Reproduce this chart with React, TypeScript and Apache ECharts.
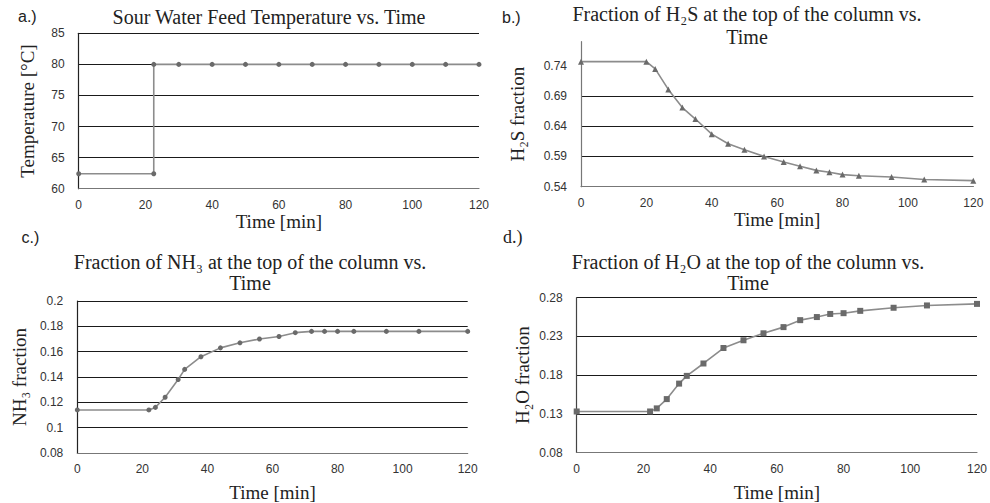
import React, { useEffect, useRef } from "react";
import * as echarts from "echarts";

const timeMin = 0;
const timeMax = 120;
const timeStep = 20;

const tempTime = [0, 22.5, 22.5, 30, 40, 50, 60, 70, 80, 90, 100, 110, 120];
const tempValues = [62.4, 62.4, 80, 80, 80, 80, 80, 80, 80, 80, 80, 80, 80];

const h2sTime = [0, 20, 22.7, 26.7, 31, 35, 40, 45, 50, 56, 62, 67, 72, 76, 80, 85, 95, 105, 120];
const h2sValues = [0.747, 0.747, 0.735, 0.701, 0.671, 0.652, 0.627, 0.611, 0.601, 0.59, 0.581, 0.574, 0.567, 0.564, 0.56, 0.558, 0.556, 0.552, 0.55];

const nh3Time = [0, 22, 24, 27, 31, 33, 38, 44, 50, 56, 62, 67, 72, 76, 80, 85, 95, 105, 120];
const nh3Values = [0.114, 0.114, 0.116, 0.124, 0.138, 0.146, 0.156, 0.163, 0.167, 0.17, 0.172, 0.175, 0.176, 0.176, 0.176, 0.176, 0.176, 0.176, 0.176];

const h2oTime = [0, 22, 24, 27, 30.7, 33, 38, 44, 50, 56, 62, 67, 72, 76, 80, 85, 95, 105, 120];
const h2oValues = [0.133, 0.133, 0.137, 0.149, 0.169, 0.179, 0.195, 0.215, 0.225, 0.234, 0.242, 0.251, 0.255, 0.259, 0.26, 0.263, 0.267, 0.27, 0.272];

const tempTicks = [60, 65, 70, 75, 80, 85];
const h2sTicks = [0.54, 0.59, 0.64, 0.69, 0.74];
const nh3Ticks = [0.08, 0.1, 0.12, 0.14, 0.16, 0.18, 0.2];
const h2oTicks = [0.08, 0.13, 0.18, 0.23, 0.28];

const SERIF = "Liberation Serif";
const SANS = "Liberation Sans";

const zip = (xs: number[], ys: number[]) => xs.map((x, i) => [x, ys[i]]);

export default function App() {
  const ref = useRef<HTMLDivElement>(null);
  useEffect(() => {
    if (!ref.current) return;
    const chart = echarts.init(ref.current, null, { renderer: "svg" });

    const grids = [
      { left: 78.7, top: 33.3, width: 400.3, height: 155.4 },
      { left: 581, top: 41.7, width: 392.3, height: 145 },
      { left: 77.3, top: 301, width: 390.4, height: 154.7 },
      { left: 576.7, top: 297.7, width: 400.6, height: 155 },
    ];
    const xGaps = [17.5, 20.5, 30, 30.5];
    const yCfg = [
      { min: 60, max: 85, ticks: tempTicks, name: "Temperature [°C]", gap: 42, axisColor: "#222", fmt: (v: number) => String(v) },
      { min: 0.54, max: 0.78, ticks: h2sTicks, name: "H₂S fraction", gap: 54, axisColor: "#777", fmt: (v: number) => v.toFixed(2) },
      { min: 0.08, max: 0.2, ticks: nh3Ticks, name: "NH₃ fraction", gap: 48, axisColor: "#222", fmt: (v: number) => String(+v.toFixed(2)) },
      { min: 0.08, max: 0.28, ticks: h2oTicks, name: "H₂O fraction", gap: 45, axisColor: "#444", fmt: (v: number) => v.toFixed(2) },
    ];
    const seriesData = [
      { d: zip(tempTime, tempValues), sym: "circle", size: 5 },
      { d: zip(h2sTime, h2sValues), sym: "triangle", size: 6 },
      { d: zip(nh3Time, nh3Values), sym: "circle", size: 5 },
      { d: zip(h2oTime, h2oValues), sym: "rect", size: 6 },
    ];

    const xAxis = grids.map((_, i) => ({
      type: "value",
      gridIndex: i,
      min: timeMin,
      max: timeMax,
      interval: timeStep,
      name: "Time [min]",
      nameLocation: "middle",
      nameGap: xGaps[i],
      nameTextStyle: { fontFamily: SERIF, fontSize: 19, color: "#222" },
      axisLine: { show: true, lineStyle: { color: "#777", width: 1.2 } },
      axisTick: { show: false },
      splitLine: { show: false },
      axisLabel: { fontFamily: SANS, fontSize: 12, color: "#333", margin: 10 },
    }));

    const yAxis = yCfg.map((c, i) => ({
      type: "value",
      gridIndex: i,
      min: c.min,
      max: c.max,
      name: c.name,
      nameLocation: "middle",
      nameRotate: 90,
      nameGap: c.gap,
      nameTextStyle: { fontFamily: SERIF, fontSize: 19, color: "#222" },
      axisLine: { show: true, lineStyle: { color: c.axisColor, width: 1.2 } },
      axisTick: { show: false, customValues: c.ticks },
      splitLine: { show: true, showMaxLine: i !== 1, lineStyle: { color: "#1a1a1a", width: 1 } },
      axisLabel: {
        fontFamily: SANS,
        fontSize: 12,
        color: "#333",
        margin: 14,
        customValues: c.ticks,
        formatter: c.fmt,
      },
    }));

    const series = seriesData.map((s, i) => ({
      type: "line",
      xAxisIndex: i,
      yAxisIndex: i,
      data: s.d,
      symbol: s.sym,
      symbolSize: s.size,
      showAllSymbol: true,
      lineStyle: { color: "#8c8c8c", width: 1.6 },
      itemStyle: { color: "#6a6a6a" },
      z: 5,
    }));

    const txt = (text: string, x: number, y: number, font: string, align = "center") => ({
      type: "text",
      x,
      y,
      silent: true,
      style: { text, font, fill: "#222", align, verticalAlign: "middle" },
    });
    const tFont = `20px "${SERIF}"`;
    const lFont = `16px "${SANS}"`;

    chart.setOption({
      animation: false,
      backgroundColor: "#fff",
      grid: grids,
      xAxis,
      yAxis,
      series,
      graphic: [
        txt("a.)", 18, 16, lFont, "left"),
        txt("Sour Water Feed Temperature vs. Time", 269, 17, tFont),
        txt("b.)", 502, 17, lFont, "left"),
        txt("Fraction of H₂S at the top of the column vs.", 747, 13.5, tFont),
        txt("Time", 747, 36.7, tFont),
        txt("c.)", 21.5, 237, lFont, "left"),
        txt("Fraction of NH₃ at the top of the column vs.", 250, 261.7, tFont),
        txt("Time", 250, 283.3, tFont),
        txt("d.)", 503, 237, `18px "${SERIF}"`, "left"),
        txt("Fraction of H₂O at the top of the column vs.", 748, 261.7, tFont),
        txt("Time", 748, 283, tFont),
      ],
    });
    return () => chart.dispose();
  }, []);
  return (
    <div
      ref={ref}
      style={{ position: "fixed", left: 0, top: 0, width: 990, height: 503, background: "#fff" }}
    />
  );
}
